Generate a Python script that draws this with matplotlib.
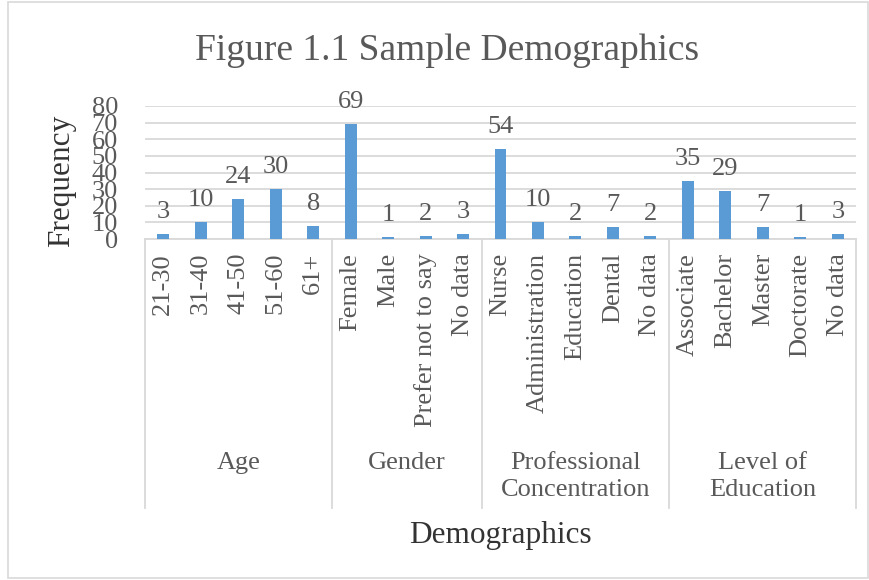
import matplotlib
matplotlib.use("Agg")
import matplotlib.pyplot as plt
from matplotlib.patches import Rectangle
from matplotlib.lines import Line2D
import matplotlib.transforms as mtransforms

plt.rcParams['font.family'] = ['Liberation Serif', 'DejaVu Serif']

groups = ["Age", "Gender", "Professional\nConcentration", "Level of\nEducation"]
categories = [
    ["21-30", "31-40", "41-50", "51-60", "61+"],
    ["Female", "Male", "Prefer not to say", "No data"],
    ["Nurse", "Administration", "Education", "Dental", "No data"],
    ["Associate", "Bachelor", "Master", "Doctorate", "No data"],
]
values = [
    [3, 10, 24, 30, 8],
    [69, 1, 2, 3],
    [54, 10, 2, 7, 2],
    [35, 29, 7, 1, 3],
]
yticks = [0, 10, 20, 30, 40, 50, 60, 70, 80]

TXT = "#595959"
BAR = "#5B9BD5"
GRID = "#D9D9D9"

W, H = 870, 580
fig = plt.figure(figsize=(W / 100, H / 100), dpi=100)
fig.patch.set_facecolor("white")

def fx(x):
    return x / W

def fy(y):
    return 1 - y / H

ax = fig.add_axes([fx(144.5), fy(239), fx(856.5) - fx(144.5), fy(106) - fy(239)])

labels = [c for g in categories for c in g]
vals = [v for g in values for v in g]
xs = list(range(len(labels)))

ax.bar(xs, vals, width=0.32, color=BAR, zorder=3)
for x, v in zip(xs, vals):
    ax.annotate(str(v), (x, v), xytext=(0, 8), textcoords="offset points",
                ha="center", va="bottom", fontsize=19, color=TXT, zorder=4)

ax.set_xlim(-0.5, len(labels) - 0.5)
ax.set_ylim(0, 80)
ax.set_yticks(yticks)
ax.set_yticklabels([str(t) for t in yticks], fontsize=19, color=TXT)
ax.yaxis.grid(True, color=GRID, linewidth=1.3, zorder=0)
ax.set_xticks(xs)
ax.set_xticklabels(labels, rotation=90, fontsize=19, color=TXT)
ax.tick_params(axis="x", length=0, pad=10)
ax.tick_params(axis="y", length=0, pad=19)
for s in ["top", "right", "left"]:
    ax.spines[s].set_visible(False)
ax.spines["bottom"].set_color(GRID)
ax.spines["bottom"].set_linewidth(1.3)
ax.set_axisbelow(True)

# group separators and labels
trans = mtransforms.blended_transform_factory(ax.transData, fig.transFigure)
bounds = [-0.5]
for g in categories:
    bounds.append(bounds[-1] + len(g))
for b in bounds:
    fig.add_artist(Line2D([b, b], [fy(239), fy(508)], transform=trans,
                          color=GRID, linewidth=1.3))
for i, g in enumerate(groups):
    c = (bounds[i] + bounds[i + 1]) / 2
    fig.text(c, fy(452), g, transform=trans, ha="center", va="top",
             fontsize=19, color=TXT, linespacing=1.3, multialignment="center")

fig.text(fx(447), fy(51), "Figure 1.1 Sample Demographics", ha="center", va="center",
         fontsize=27, color=TXT)
fig.text(fx(500), fy(535), "Demographics", ha="center", va="center",
         fontsize=22.5, color="#333333")
fig.text(fx(62), fy(181), "Frequency", ha="center", va="center", rotation=90,
         fontsize=22.5, color="#333333")

fig.add_artist(Rectangle((fx(8), fy(578)), fx(868) - fx(8), fy(2) - fy(578),
                         transform=fig.transFigure, fill=False,
                         edgecolor=GRID, linewidth=1.2))

fig.savefig("out.png", dpi=100)
